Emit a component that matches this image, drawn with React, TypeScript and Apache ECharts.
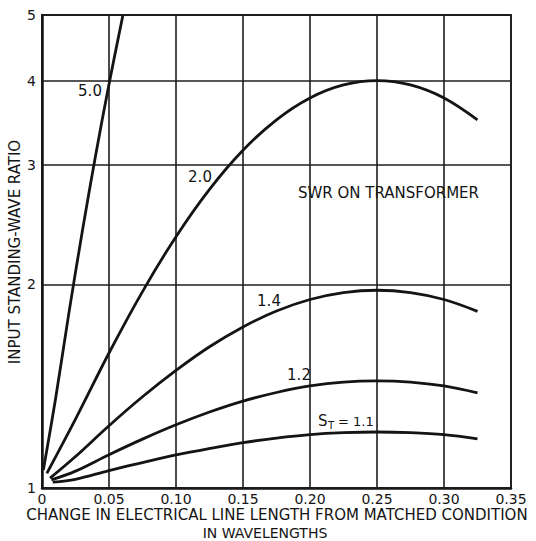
import { useEffect, useRef } from "react";
import * as echarts from "echarts";

// Tick values
const Y_TICKS = [1, 2, 3, 4, 5];
const X_MIN = 0;
const X_MAX = 0.35;
const X_STEP = 0.05;

// Curves (x in wavelengths, y = input SWR)
const X_11 = [0.008, 0.025, 0.05, 0.075, 0.1, 0.125, 0.15, 0.175, 0.2, 0.225, 0.25, 0.275, 0.3, 0.325];
const Y_11 = [1.02, 1.03, 1.061, 1.09, 1.119, 1.144, 1.167, 1.185, 1.199, 1.207, 1.21, 1.207, 1.199, 1.182];

const X_12 = [0.007, 0.025, 0.05, 0.075, 0.1, 0.125, 0.15, 0.175, 0.2, 0.225, 0.25, 0.275, 0.3, 0.325];
const Y_12 = [1.028, 1.059, 1.12, 1.181, 1.24, 1.295, 1.344, 1.384, 1.415, 1.434, 1.44, 1.434, 1.415, 1.382];

const X_14 = [0.006, 0.025, 0.05, 0.075, 0.1, 0.125, 0.15, 0.175, 0.2, 0.225, 0.25, 0.275, 0.3, 0.325];
const Y_14 = [1.034, 1.113, 1.236, 1.364, 1.492, 1.617, 1.73, 1.826, 1.899, 1.944, 1.96, 1.944, 1.899, 1.824];

const X_20 = [0.0036, 0.025, 0.05, 0.075, 0.1, 0.125, 0.15, 0.175, 0.2, 0.225, 0.25, 0.275, 0.3, 0.325];
const Y_20 = [1.051, 1.264, 1.583, 1.951, 2.352, 2.763, 3.156, 3.5, 3.77, 3.941, 4.0, 3.941, 3.77, 3.5];

const X_50 = [0.001, 0.01, 0.02, 0.03, 0.04, 0.05, 0.0604];
const Y_50 = [1.063, 1.35, 1.81, 2.39, 3.1, 3.95, 5.0];

const CURVES = [
  { name: "1.1", xs: X_11, ys: Y_11 },
  { name: "1.2", xs: X_12, ys: Y_12 },
  { name: "1.4", xs: X_14, ys: Y_14 },
  { name: "2.0", xs: X_20, ys: Y_20 },
  { name: "5.0", xs: X_50, ys: Y_50 },
];

const X_TITLE_1 = "CHANGE IN ELECTRICAL LINE LENGTH FROM MATCHED CONDITION";
const X_TITLE_2 = "IN WAVELENGTHS";
const Y_TITLE = "INPUT STANDING-WAVE RATIO";
const NOTE = "SWR ON TRANSFORMER";

const FONT = '"DejaVu Sans", sans-serif';
const INK = "#141414";

export default function App() {
  const ref = useRef<HTMLDivElement>(null);

  useEffect(() => {
    if (!ref.current) return;
    const chart = echarts.init(ref.current, undefined, { renderer: "svg" });

    const series: any[] = CURVES.map((c, i) => ({
      type: "line",
      name: c.name,
      data: c.xs.map((x, k) => [x, c.ys[k]]),
      showSymbol: false,
      smooth: 0.35,
      lineStyle: { color: INK, width: 2.8 },
      z: 5,
      ...(i === 0
        ? {
            markLine: {
              silent: true,
              symbol: ["none", "none"],
              z: 1,
              lineStyle: { color: "#1e1e1e", width: 1.6, type: "solid" },
              label: {
                show: true,
                position: "start",
                distance: 6,
                formatter: "{c}",
                fontSize: 14,
                fontFamily: FONT,
                color: INK,
              },
              data: Y_TICKS.map((v) => ({ yAxis: v })),
            },
          }
        : {}),
    }));

    const txt = (text: string, x: number, y: number, size = 15, align = "center", extra: any = {}) => ({
      type: "text",
      x,
      y,
      ...extra,
      style: {
        text,
        fill: INK,
        fontSize: size,
        fontFamily: FONT,
        align,
        verticalAlign: "middle",
      },
    });

    chart.setOption({
      animation: false,
      backgroundColor: "#fff",
      grid: {
        left: 42,
        right: 25,
        top: 15,
        bottom: 53,
        show: true,
        borderColor: "#1e1e1e",
        borderWidth: 1.8,
      },
      xAxis: {
        type: "value",
        min: X_MIN,
        max: X_MAX,
        interval: X_STEP,
        axisLine: { show: true, lineStyle: { color: INK, width: 2.5 } },
        axisTick: { show: false },
        splitLine: { show: true, lineStyle: { color: "#1e1e1e", width: 1.6 } },
        axisLabel: {
          margin: 4,
          fontSize: 14,
          fontFamily: FONT,
          color: INK,
          showMaxLabel: true,
          showMinLabel: true,
          formatter: (v: number) => (v === 0 ? "0" : v.toFixed(2)),
        },
      },
      yAxis: {
        type: "log",
        logBase: 10,
        min: 1,
        max: 5,
        axisLine: { show: true, lineStyle: { color: INK, width: 2.5 } },
        axisTick: { show: false },
        axisLabel: { show: false },
        splitLine: { show: false },
        minorSplitLine: { show: false },
      },
      series,
      graphic: [
        txt("5.0", 90, 91),
        txt("2.0", 200, 177),
        txt("1.4", 269, 301),
        txt("1.2", 299, 375),
        txt("S", 318, 421, 15, "left"),
        txt("T", 328, 425, 10, "left"),
        txt("= 1.1", 338, 421, 13, "left"),
        txt(NOTE, 298, 193, 15, "left"),
        txt(X_TITLE_1, 277, 515, 15),
        txt(X_TITLE_2, 265, 532.5, 14),
        txt(Y_TITLE, 15, 252, 15, "center", { rotation: Math.PI / 2 }),
      ],
    });

    return () => chart.dispose();
  }, []);

  return (
    <div
      ref={ref}
      style={{ position: "fixed", left: 0, top: 0, width: 536, height: 541, background: "#fff" }}
    />
  );
}
